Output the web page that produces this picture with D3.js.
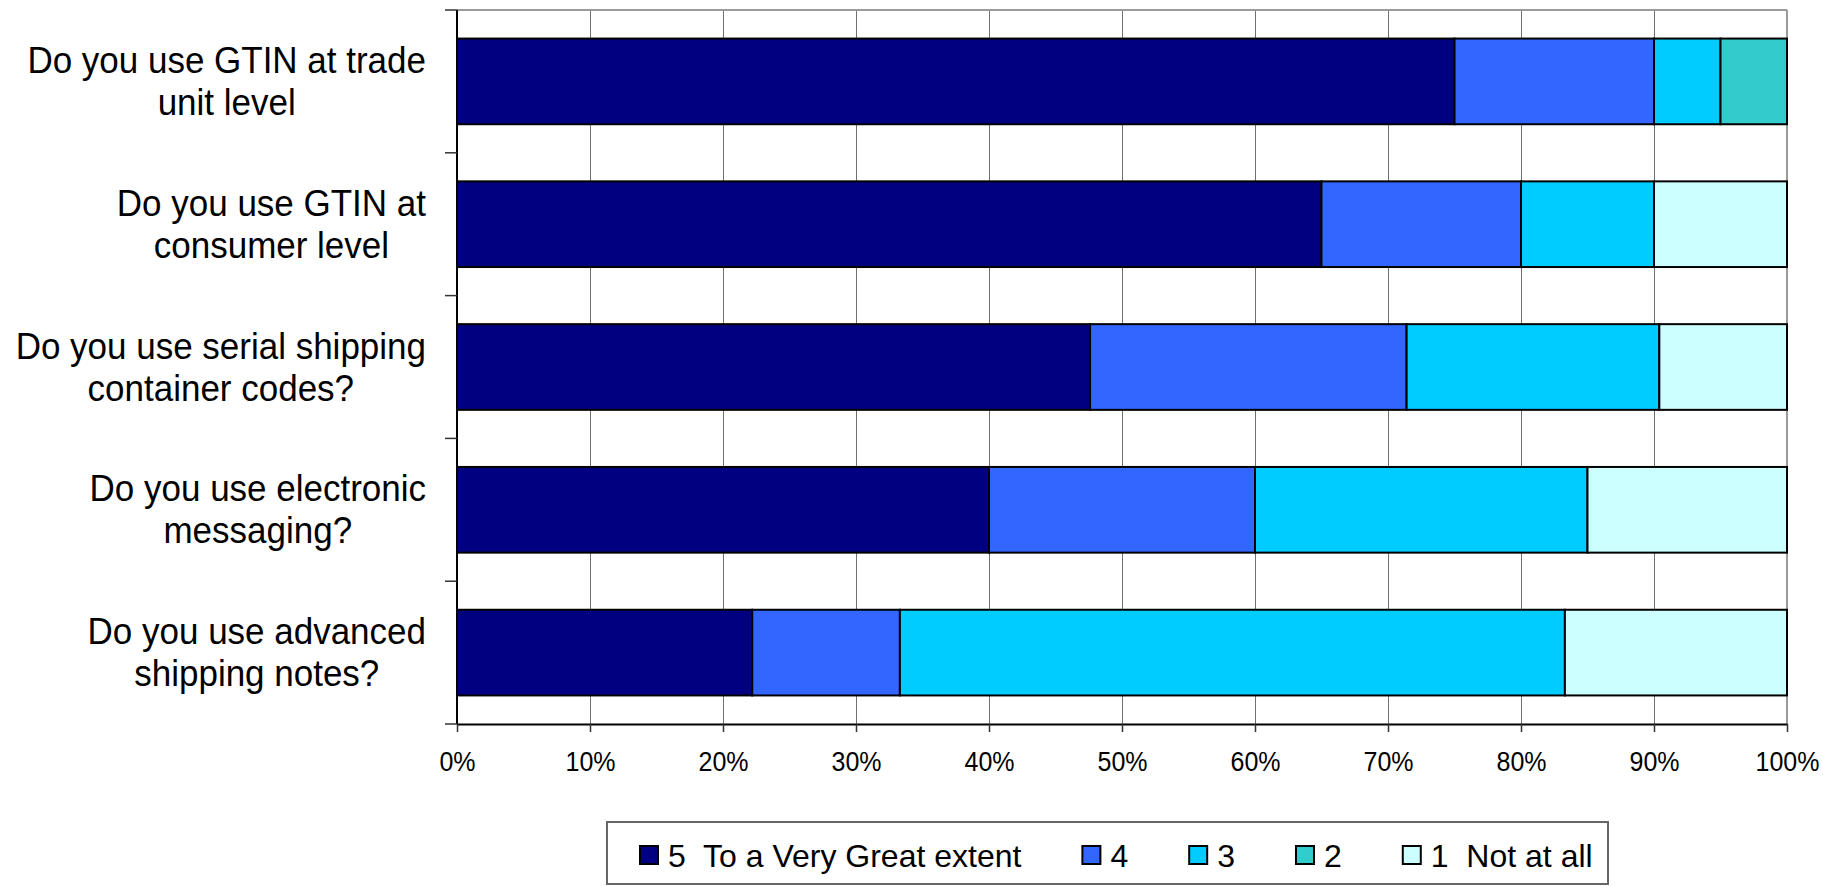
<!DOCTYPE html>
<html>
<head>
<meta charset="utf-8">
<script src="https://cdn.jsdelivr.net/npm/d3@7"></script>
<style>
  html, body { margin: 0; padding: 0; background: #fff; }
  svg { display: block; font-family: "Liberation Sans", Arial, sans-serif; }
</style>
</head>
<body>
<svg id="chart" width="1823" height="886"></svg>
<script>
// Survey questions, one row each (lines of the wrapped label)
const categories = [
  ["Do you use GTIN at trade", "unit level"],
  ["Do you use GTIN at", "consumer level"],
  ["Do you use serial shipping", "container codes?"],
  ["Do you use electronic", "messaging?"],
  ["Do you use advanced", "shipping notes?"]
];

// Answer levels, in stacking order
const seriesNames = ["5  To a Very Great extent", "4", "3", "2", "1  Not at all"];
const seriesColors = ["#000080", "#3366FF", "#00CCFF", "#33CCCC", "#CCFFFF"];

// Share of responses (%) per question for each level
const level5 = [75, 65, 47.6, 40, 22.2];
const level4 = [15, 15, 23.8, 20, 11.1];
const level3 = [5, 10, 19.0, 25, 50];
const level2 = [5, 0, 0, 0, 0];
const level1 = [0, 10, 9.6, 15, 16.7];

const xTicks = [0, 0.1, 0.2, 0.3, 0.4, 0.5, 0.6, 0.7, 0.8, 0.9, 1];
const xTickLabels = ["0%", "10%", "20%", "30%", "40%", "50%", "60%", "70%", "80%", "90%", "100%"];

const levels = [level5, level4, level3, level2, level1];
const rows = categories.map((c, i) => {
  const r = { key: i };
  seriesNames.forEach((s, j) => { r[s] = levels[j][i]; });
  return r;
});

const svg = d3.select("#chart");
const plot = { left: 457, right: 1787, top: 10, bottom: 724 };

const x = d3.scaleLinear().domain([0, 1]).range([plot.left, plot.right]);
const y = d3.scaleBand()
  .domain(categories.map((c, i) => i))
  .range([plot.top, plot.bottom])
  .paddingInner(0.4)
  .paddingOuter(0.2);

const stack = d3.stack().keys(seriesNames).offset(d3.stackOffsetExpand);
const stacked = stack(rows);

// vertical gridlines
svg.append("g")
  .selectAll("line")
  .data(xTicks.slice(1, -1))
  .join("line")
  .attr("x1", d => x(d)).attr("x2", d => x(d))
  .attr("y1", plot.top).attr("y2", plot.bottom)
  .attr("stroke", "#707070")
  .attr("stroke-width", 1)
  .attr("shape-rendering", "crispEdges");

// plot frame: top and right edges
svg.append("line")
  .attr("x1", plot.left).attr("x2", plot.right)
  .attr("y1", plot.top).attr("y2", plot.top)
  .attr("stroke", "#9a9a9a").attr("stroke-width", 2);
svg.append("line")
  .attr("x1", plot.right).attr("x2", plot.right)
  .attr("y1", plot.top).attr("y2", plot.bottom)
  .attr("stroke", "#9a9a9a").attr("stroke-width", 2);

// stacked bars
svg.append("g")
  .selectAll("g")
  .data(stacked)
  .join("g")
  .attr("fill", (d, i) => seriesColors[i])
  .selectAll("rect")
  .data(d => d.filter(p => p[1] - p[0] > 0))
  .join("rect")
  .attr("x", d => x(d[0]))
  .attr("width", d => x(d[1]) - x(d[0]))
  .attr("y", d => y(d.data.key))
  .attr("height", y.bandwidth())
  .attr("stroke", "#000")
  .attr("stroke-width", 2);

// x axis
const xAxis = d3.axisBottom(x)
  .tickValues(xTicks)
  .tickFormat((d, i) => xTickLabels[i])
  .tickSizeInner(8)
  .tickSizeOuter(0)
  .tickPadding(18);
const gx = svg.append("g")
  .attr("transform", `translate(0,${plot.bottom})`)
  .call(xAxis);
gx.select(".domain").attr("stroke", "#000").attr("stroke-width", 2);
gx.selectAll(".tick line").attr("stroke", "#333").attr("stroke-width", 1.5);
gx.selectAll(".tick text")
  .attr("fill", "#000")
  .attr("transform", "scale(1,1.08)")
  .style("font-size", "25px")
  .style("font-family", "'Liberation Sans', Arial, sans-serif");

// y axis: ticks sit on the category boundaries
const yBounds = d3.range(categories.length + 1).map(i => plot.top + i * y.step());
svg.append("line")
  .attr("x1", plot.left).attr("x2", plot.left)
  .attr("y1", plot.top).attr("y2", plot.bottom)
  .attr("stroke", "#000").attr("stroke-width", 2);
svg.append("g")
  .selectAll("line")
  .data(yBounds)
  .join("line")
  .attr("x1", plot.left - 12).attr("x2", plot.left)
  .attr("y1", d => d).attr("y2", d => d)
  .attr("stroke", "#333").attr("stroke-width", 1.5);

// category labels: each block is right-aligned, its lines centred
const labelRight = 426;
const labelSize = 35;
const labelStretch = 1.06;
const lineGap = 42;
const labels = svg.append("g")
  .style("font-size", labelSize + "px")
  .attr("fill", "#000");
categories.forEach((lines, i) => {
  const cy = y(i) + y.bandwidth() / 2;
  const g = labels.append("g")
    .attr("transform", `translate(0,${cy}) scale(1,${labelStretch})`);
  const t = g.append("text").attr("text-anchor", "middle");
  const spans = lines.map((ln, k) =>
    t.append("tspan")
      .attr("y", ((k - (lines.length - 1) / 2) * lineGap + labelSize * 0.36) / labelStretch)
      .text(ln));
  const w = d3.max(spans, s => s.node().getComputedTextLength());
  spans.forEach(s => s.attr("x", labelRight - w / 2));
});

// legend
const legend = { left: 607, top: 822, width: 1001, height: 62 };
svg.append("rect")
  .attr("x", legend.left).attr("y", legend.top)
  .attr("width", legend.width).attr("height", legend.height)
  .attr("fill", "#fff")
  .attr("stroke", "#666").attr("stroke-width", 2);

const legendItems = svg.append("g");
let lx = 640;
const sq = 18;
const legendMid = 855;
seriesNames.forEach((name, i) => {
  legendItems.append("rect")
    .attr("x", lx).attr("y", legendMid - sq / 2)
    .attr("width", sq).attr("height", sq)
    .attr("fill", seriesColors[i])
    .attr("stroke", "#000").attr("stroke-width", 2);
  const t = legendItems.append("text")
    .attr("x", lx + sq + 10)
    .attr("y", legendMid + 32 * 0.36)
    .style("font-size", "32px")
    .style("white-space", "pre")
    .attr("fill", "#000")
    .text(name);
  lx += sq + 10 + t.node().getComputedTextLength() + 61;
});
</script>
</body>
</html>
